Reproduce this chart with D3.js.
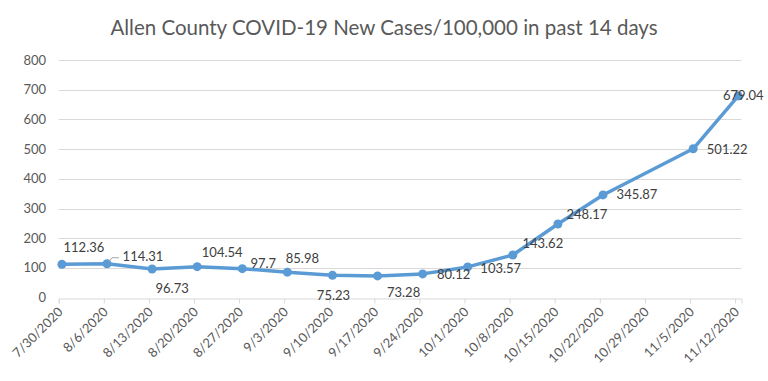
<!DOCTYPE html>
<html><head><meta charset="utf-8">
<script src="https://cdn.jsdelivr.net/npm/d3@7"></script>
<style>body{margin:0;background:#fff}svg{display:block}</style>
</head><body>
<svg id="c" width="768" height="381"></svg>
<script>
const title = "Allen County COVID-19 New Cases/100,000 in past 14 days";
const dates = ["7/30/2020","8/6/2020","8/13/2020","8/20/2020","8/27/2020","9/3/2020","9/10/2020","9/17/2020","9/24/2020","10/1/2020","10/8/2020","10/15/2020","10/22/2020","11/5/2020","11/12/2020"];
const values = [112.36,114.31,96.73,104.54,97.7,85.98,75.23,73.28,80.12,103.57,143.62,248.17,345.87,501.22,679.04];
const yTicks = [0,100,200,300,400,500,600,700,800];
const tickDates = ["7/30/2020","8/6/2020","8/13/2020","8/20/2020","8/27/2020","9/3/2020","9/10/2020","9/17/2020","9/24/2020","10/1/2020","10/8/2020","10/15/2020","10/22/2020","10/29/2020","11/5/2020","11/12/2020"];
// label placement offsets (layout only)
const labelOffsets = [[22,-17],[36,-7],[20,20],[25,-14],[21,-5],[15,-14],[1,20],[26,17],[31,1],[33,2],[30,-12],[29,-9],[34,0],[34,1],[5,0]];

const parse = d3.timeParse("%m/%d/%Y");
const svg = d3.select("#c");
const font = "Lato, 'Open Sans', sans-serif";

const start = parse(dates[0]);
const end = d3.timeDay.offset(parse(tickDates[tickDates.length-1]), 1);
const x = d3.scaleTime().domain([start, end]).range([58.7, 741.5]);
const y = d3.scaleLinear().domain([0, 800]).range([297.7, 60]);
const mid = d => new Date(d.getTime() + 12*3600*1000);

svg.append("text").attr("x", 384).attr("y", 35).attr("text-anchor","middle")
  .attr("font-family", font).attr("font-size", 20.5).attr("fill","#595959").text(title);

// gridlines
svg.append("g").selectAll("line").data(yTicks.filter(v=>v>0)).join("line")
  .attr("x1", x.range()[0]).attr("x2", x.range()[1])
  .attr("y1", d=>Math.round(y(d))+0.5).attr("y2", d=>Math.round(y(d))+0.5)
  .attr("stroke","#d9d9d9").attr("stroke-width",1);

// y labels
svg.append("g").selectAll("text").data(yTicks).join("text")
  .attr("x", 46).attr("y", d=>y(d)+4.5).attr("text-anchor","end")
  .attr("font-family", font).attr("font-size", 13).attr("fill","#595959").text(d=>d);

// x axis
const xAxis = d3.axisBottom(x).tickValues(tickDates.map(parse)).tickSize(5).tickFormat("");
const gx = svg.append("g").attr("transform", `translate(0,${Math.round(y(0))+0.5})`).call(xAxis);
gx.select(".domain").attr("stroke","#d9d9d9");
gx.selectAll(".tick line").attr("stroke","#d9d9d9");

svg.append("g").selectAll("text").data(tickDates).join("text")
  .attr("transform", d=>`translate(${x(parse(d))+5},${y(0)+15}) rotate(-45)`)
  .attr("text-anchor","end")
  .attr("font-family", font).attr("font-size", 13).attr("fill","#595959").text(d=>d);

const pts = dates.map((d,i)=>({d:mid(parse(d)), v:values[i], o:labelOffsets[i]}));
const line = d3.line().x(p=>x(p.d)).y(p=>y(p.v));
svg.append("path").datum(pts).attr("d", line).attr("fill","none")
  .attr("stroke","#5b9bd5").attr("stroke-width",3.5).attr("stroke-linejoin","round");
svg.append("g").selectAll("circle").data(pts).join("circle")
  .attr("cx", p=>x(p.d)).attr("cy", p=>y(p.v)).attr("r", 4.5).attr("fill","#5b9bd5");

// leader line for 114.31
const p1 = pts[1];
svg.append("path").attr("d", `M${x(p1.d)+2},${y(p1.v)-2} L${x(p1.d)+5},${y(p1.v)-6} L${x(p1.d)+12},${y(p1.v)-6}`)
  .attr("fill","none").attr("stroke","#a6a6a6").attr("stroke-width",1);

svg.append("g").selectAll("text").data(pts).join("text")
  .attr("x", p=>x(p.d)+p.o[0]).attr("y", p=>y(p.v)+p.o[1]+4.5).attr("text-anchor","middle")
  .attr("font-family", font).attr("font-size", 13).attr("fill","#404040").text(p=>p.v);
</script>
</body></html>
